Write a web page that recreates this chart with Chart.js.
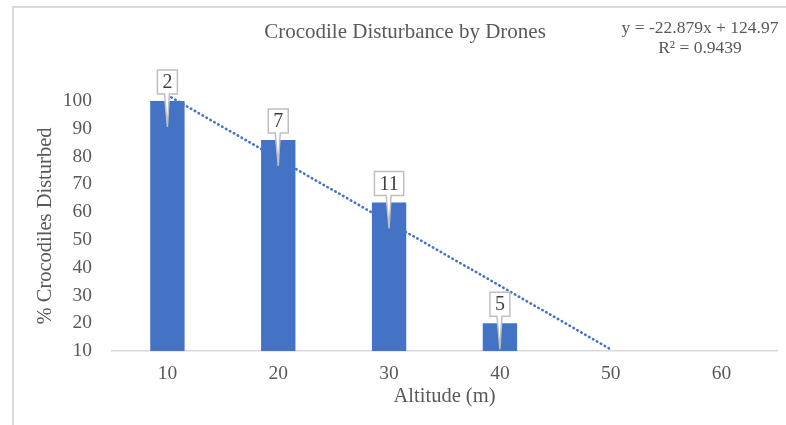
<!DOCTYPE html>
<html>
<head>
<meta charset="utf-8">
<script src="https://cdn.jsdelivr.net/npm/chart.js@4"></script>
<style>
  html, body { margin: 0; padding: 0; background: #fff; }
  #wrap { position: relative; width: 786px; height: 425px; }
</style>
</head>
<body>
<div id="wrap"><canvas id="chart1" width="786" height="425"></canvas></div>
<script>
const altitudes = ['10', '20', '30', '40', '50', '60']
const disturbed = [100, 86, 63.5, 20, null, null]
const sampleSizes = [2, 7, 11, 5, null, null]
// linear trendline (y = -22.879x + 124.97)
const trendValues = [102.1, 79.2, 56.3, 33.5, 10.6, null]
const yMin = 10
const yMax = 100
const yStep = 10

const serif = '"Liberation Serif", "Times New Roman", serif'
const textGrey = '#595959'

// frame, title and trendline equation
const decorPlugin = {
    id: 'decor',
    beforeDraw(chart) {
        const ctx = chart.ctx
        ctx.save()
        ctx.fillStyle = '#fff'
        ctx.fillRect(0, 0, chart.width, chart.height)
        ctx.strokeStyle = '#d9d9d9'
        ctx.lineWidth = 2
        ctx.beginPath()
        ctx.moveTo(13, chart.height)
        ctx.lineTo(13, 7)
        ctx.lineTo(chart.width, 7)
        ctx.stroke()
        ctx.restore()
    },
    afterDraw(chart) {
        const ctx = chart.ctx
        ctx.save()
        ctx.fillStyle = textGrey
        ctx.textAlign = 'center'
        ctx.textBaseline = 'middle'
        ctx.font = '21px ' + serif
        ctx.fillText('Crocodile Disturbance by Drones', 405, 32)
        ctx.font = '17.5px ' + serif
        ctx.fillText('y = -22.879x + 124.97', 700, 28)
        ctx.fillText('R² = 0.9439', 700, 48)
        ctx.restore()
    }
}

// callout boxes with sample sizes, pointing into each bar
const calloutPlugin = {
    id: 'callouts',
    afterDatasetsDraw(chart) {
        const ctx = chart.ctx
        const meta = chart.getDatasetMeta(0)
        const base = chart.scales.y.getPixelForValue(yMin)
        ctx.save()
        ctx.font = '20px ' + serif
        meta.data.forEach((bar, i) => {
            const n = sampleSizes[i]
            if (n == null || disturbed[i] == null) return
            const txt = String(n)
            const w = ctx.measureText(txt).width + 10
            const h = 24
            const x = bar.x
            const bottom = bar.y - 7
            const top = bottom - h
            const left = x - w / 2
            const right = x + w / 2
            const tipY = Math.min(bar.y + 26, base - 1)
            ctx.beginPath()
            ctx.moveTo(left, top)
            ctx.lineTo(right, top)
            ctx.lineTo(right, bottom)
            ctx.lineTo(x + 2, bottom)
            ctx.lineTo(x, tipY)
            ctx.lineTo(x - 3, bottom)
            ctx.lineTo(left, bottom)
            ctx.closePath()
            ctx.fillStyle = '#fff'
            ctx.fill()
            ctx.strokeStyle = '#bfbfbf'
            ctx.lineWidth = 1.5
            ctx.stroke()
            ctx.fillStyle = '#404040'
            ctx.textAlign = 'center'
            ctx.textBaseline = 'middle'
            ctx.fillText(txt, x, top + h / 2 + 1)
        })
        ctx.restore()
    }
}

function grafico(){
    const data = {
        labels: altitudes,
        datasets: [{
            type: 'bar',
            data: disturbed,
            backgroundColor: '#4472C4',
            barPercentage: 0.31,
            categoryPercentage: 1,
            order: 1
        }, {
            type: 'line',
            data: trendValues,
            borderColor: '#4472C4',
            borderWidth: 2.6,
            borderDash: [0.5, 4],
            borderCapStyle: 'round',
            pointRadius: 0,
            fill: false,
            clip: false,
            order: 2
        }]
    }
    new Chart(document.getElementById('chart1'), {
        type: 'bar',
        data,
        options: {
            responsive: false,
            animation: false,
            events: [],
            layout: { padding: { left: 30, right: 9, top: 101, bottom: 0 } },
            plugins: { legend: { display: false }, tooltip: { enabled: false } },
            scales: {
                x: {
                    grid: { display: false, drawTicks: false },
                    border: { display: true, color: '#d9d9d9', width: 1.5 },
                    ticks: { padding: 11, color: textGrey, font: { family: serif, size: 19.5 } },
                    title: {
                        display: true, text: 'Altitude (m)', color: textGrey,
                        font: { family: serif, size: 20.5 }, padding: { top: 0, bottom: 16 }
                    },
                    afterFit(scale) { scale.height = 74 }
                },
                y: {
                    min: yMin, max: yMax,
                    grid: { display: false, drawTicks: false },
                    border: { display: false },
                    ticks: { stepSize: yStep, padding: 20, color: textGrey, font: { family: serif, size: 19.5 } },
                    title: {
                        display: true, text: '% Crocodiles Disturbed', color: textGrey,
                        font: { family: serif, size: 20.5 }, padding: { top: 3, bottom: 0 }
                    },
                    afterFit(scale) { scale.width = 82 }
                }
            }
        },
        plugins: [decorPlugin, calloutPlugin]
    })
}

grafico()
</script>
</body>
</html>
